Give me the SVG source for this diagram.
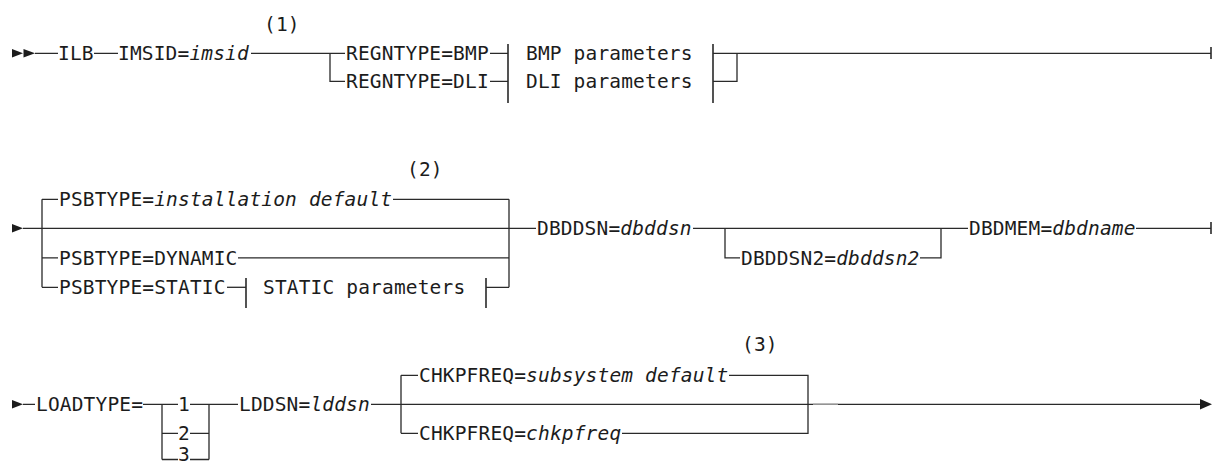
<svg xmlns="http://www.w3.org/2000/svg" width="1212" height="466" viewBox="0 0 1212 466">
  <style>
    text { font-family: "DejaVu Sans Mono", "Liberation Mono", monospace; font-size: 19.5px; letter-spacing: 0.16px; fill: #1c1c1c; }
    .v { font-style: italic; }
    .ln { stroke: #2a2a2a; stroke-width: 1.3; fill: none; }
    .tick { stroke: #2a2a2a; stroke-width: 1.6; fill: none; }
    .head { fill: #1c1c1c; stroke: none; }
  </style>

  <!-- connectors: rails, branches, fragment bars and arrowheads -->
  <g id="connectors">
    <!-- row 1 -->
    <polygon class="head" points="12,49 23,53.3 12,57.6"/>
    <polygon class="head" points="23.5,49 35,53.3 23.5,57.6"/>
    <path class="ln" d="M35 53.3H58 M94 53.3H118 M251 53.3H345 M330 53.3V81.3H345"/>
    <path class="ln" d="M490 53.3H508 M490 81.3H508"/>
    <path class="tick" d="M508 44V103 M713 44V103"/>
    <path class="ln" d="M713 53.3H1211 M713 81.3H737V53.3"/>
    <path class="tick" d="M1211 47V59"/>

    <!-- row 2 -->
    <polygon class="head" points="12,224 23,228.3 12,232.6"/>
    <path class="ln" d="M23 228.3H536 M42 199.3V287.3 M42 199.3H58 M42 257.8H58 M42 287.3H58"/>
    <path class="ln" d="M393 199.3H509 M238 257.8H509 M509 199.3V287.3 M486 287.3H509"/>
    <path class="ln" d="M227 287.3H246"/>
    <path class="tick" d="M246 278V308 M486 278V308"/>
    <path class="ln" d="M693 228.3H968 M725 228.3V257.8H740 M920 257.8H941V228.3"/>
    <path class="ln" d="M1136 228.3H1211"/>
    <path class="tick" d="M1211 222V234"/>

    <!-- row 3 -->
    <polygon class="head" points="12,400 23,404.3 12,408.6"/>
    <path class="ln" d="M23 404.3H35 M143 404.3H178 M162 404.3V459.5 M162 433.3H178 M162 459.5H178"/>
    <path class="ln" d="M190 404.3H238 M190 433.3H209 M190 459.5H209 M209 404.3V459.5"/>
    <path class="ln" d="M371 404.3H1201 M401 375.3V433.3 M401 375.3H418 M401 433.3H418"/>
    <path class="ln" d="M729 375.3H808V433.3H622"/>
    <path d="M813 404.3H838" stroke="#9a9a9a" stroke-width="1.3"/>
    <polygon class="head" points="1200,399 1212,404.3 1200,409.6"/>
  </g>

  <!-- row 1: ILB IMSID=imsid, region type choice -->
  <g id="ilb"><text x="58" y="60.3">ILB</text></g>
  <g id="imsid"><text x="118" y="60.3">IMSID=<tspan class="v">imsid</tspan></text></g>
  <g id="note1"><text x="264" y="31">(1)</text></g>
  <g id="regntype-bmp"><text x="346" y="60.3">REGNTYPE=BMP</text></g>
  <g id="regntype-dli"><text x="346" y="88.3">REGNTYPE=DLI</text></g>
  <g id="bmp-parameters"><text x="526" y="60.3">BMP parameters</text></g>
  <g id="dli-parameters"><text x="526" y="88.3">DLI parameters</text></g>

  <!-- row 2: PSBTYPE choice, DBDDSN, optional DBDDSN2, DBDMEM -->
  <g id="note2"><text x="407" y="176">(2)</text></g>
  <g id="psbtype-default"><text x="59" y="206.3">PSBTYPE=<tspan class="v">installation default</tspan></text></g>
  <g id="psbtype-dynamic"><text x="59" y="264.8">PSBTYPE=DYNAMIC</text></g>
  <g id="psbtype-static"><text x="59" y="294.3">PSBTYPE=STATIC</text></g>
  <g id="static-parameters"><text x="263" y="294.3">STATIC parameters</text></g>
  <g id="dbddsn"><text x="537" y="235.3">DBDDSN=<tspan class="v">dbddsn</tspan></text></g>
  <g id="dbddsn2"><text x="741" y="264.8">DBDDSN2=<tspan class="v">dbddsn2</tspan></text></g>
  <g id="dbdmem"><text x="969" y="235.3">DBDMEM=<tspan class="v">dbdname</tspan></text></g>

  <!-- row 3: LOADTYPE, LDDSN, CHKPFREQ choice -->
  <g id="loadtype"><text x="36" y="411.3">LOADTYPE=</text></g>
  <g id="loadtype-1"><text x="178" y="411.3">1</text></g>
  <g id="loadtype-2"><text x="178" y="440.3">2</text></g>
  <g id="loadtype-3"><text x="178" y="461">3</text></g>
  <g id="lddsn"><text x="239" y="411.3">LDDSN=<tspan class="v">lddsn</tspan></text></g>
  <g id="note3"><text x="742" y="351">(3)</text></g>
  <g id="chkpfreq-default"><text x="419" y="382.3">CHKPFREQ=<tspan class="v">subsystem default</tspan></text></g>
  <g id="chkpfreq-value"><text x="419" y="440.3">CHKPFREQ=<tspan class="v">chkpfreq</tspan></text></g>
</svg>
